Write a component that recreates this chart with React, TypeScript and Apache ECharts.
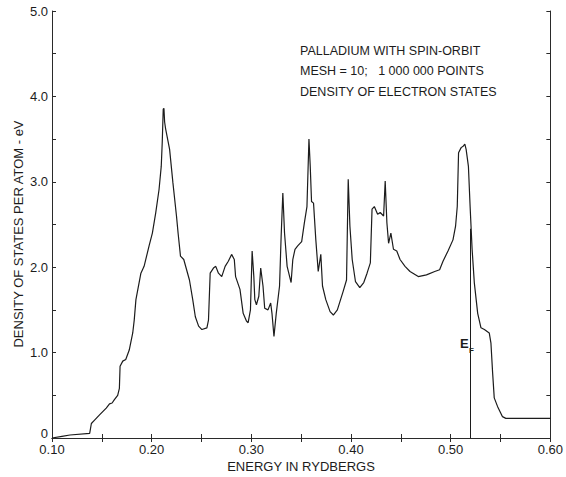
import React, { useEffect, useRef } from "react";
import * as echarts from "echarts";

// Energy (Rydbergs) and density of states (states per atom per eV)
const energy: number[] = [
  0.100, 0.110, 0.118, 0.1378, 0.1395, 0.1427, 0.1477, 0.1544, 0.1577, 0.1603,
  0.1626, 0.1659, 0.1676, 0.1683, 0.171, 0.174, 0.1775, 0.181, 0.1825, 0.1842,
  0.1892, 0.1924, 0.1974, 0.2007, 0.2041, 0.2074, 0.2096, 0.2106, 0.2116, 0.2123,
  0.2130, 0.214, 0.218, 0.2213, 0.2249, 0.2265, 0.2289, 0.2322, 0.2379, 0.2412,
  0.2438, 0.2471, 0.2504, 0.2554, 0.257, 0.2587, 0.262, 0.2643, 0.267, 0.2703,
  0.2737, 0.2769, 0.2802, 0.2829, 0.2842, 0.2886, 0.2918, 0.2951, 0.2968, 0.2991,
  0.3008, 0.3025, 0.3035, 0.3051, 0.3075, 0.3094, 0.3117, 0.3134, 0.3167, 0.3194,
  0.3207, 0.3227, 0.325, 0.3283, 0.3299, 0.3316, 0.3333, 0.3359, 0.3399, 0.3416,
  0.3438, 0.3465, 0.3505, 0.3532, 0.3558, 0.3578, 0.3591, 0.3604, 0.3624, 0.3647,
  0.3671, 0.3697, 0.3714, 0.3747, 0.379, 0.3823, 0.3863, 0.3922, 0.3955, 0.3972,
  0.3989, 0.4012, 0.4045, 0.4088, 0.4128, 0.4161, 0.4194, 0.4211, 0.4234, 0.4267,
  0.4293, 0.4327, 0.4343, 0.436, 0.4377, 0.44, 0.4426, 0.4459, 0.4492, 0.4542,
  0.4592, 0.4675, 0.4757, 0.484, 0.4889, 0.4923, 0.4973, 0.5023, 0.5049, 0.5066,
  0.5079, 0.5105, 0.5128, 0.5142, 0.5155, 0.5178, 0.5195, 0.5215, 0.5237, 0.5271,
  0.5304, 0.5338, 0.5387, 0.5404, 0.5421, 0.5437, 0.547, 0.552, 0.5553, 0.60,
];

const density: number[] = [
  0.00, 0.02, 0.035, 0.055, 0.17, 0.21, 0.27, 0.35, 0.40, 0.41,
  0.45, 0.50, 0.58, 0.84, 0.90, 0.92, 1.03, 1.23, 1.38, 1.62,
  1.93, 2.01, 2.25, 2.40, 2.64, 2.91, 3.18, 3.46, 3.85, 3.86,
  3.70, 3.62, 3.38, 2.99, 2.60, 2.40, 2.13, 2.09, 1.85, 1.62,
  1.42, 1.31, 1.27, 1.29, 1.38, 1.93, 1.99, 2.01, 1.93, 1.89,
  2.01, 2.07, 2.15, 2.09, 1.89, 1.74, 1.46, 1.37, 1.35, 1.50,
  2.19, 1.89, 1.62, 1.56, 1.66, 1.99, 1.78, 1.52, 1.50, 1.58,
  1.46, 1.19, 1.46, 1.78, 2.36, 2.87, 2.40, 2.01, 1.82, 2.09,
  2.21, 2.25, 2.30, 2.52, 2.71, 3.50, 3.18, 2.77, 2.75, 2.32,
  1.95, 2.15, 1.78, 1.62, 1.48, 1.44, 1.50, 1.72, 1.85, 3.03,
  2.48, 2.09, 1.83, 1.76, 1.82, 1.93, 2.05, 2.68, 2.71, 2.62,
  2.64, 2.60, 3.01, 2.52, 2.28, 2.40, 2.21, 2.19, 2.09, 2.01,
  1.95, 1.89, 1.91, 1.95, 1.97, 2.07, 2.19, 2.32, 2.48, 2.71,
  3.34, 3.40, 3.42, 3.44, 3.38, 3.18, 2.71, 2.21, 1.82, 1.46,
  1.29, 1.27, 1.23, 1.11, 0.76, 0.47, 0.37, 0.25, 0.23, 0.23,
];

const fermiEnergy = 0.52;
const fermiDensity = 2.45;

const annotationLines: string[] = [
  "PALLADIUM WITH SPIN-ORBIT",
  "MESH = 10;   1 000 000 POINTS",
  "DENSITY OF ELECTRON STATES",
];

const xTitle = "ENERGY IN RYDBERGS";
const yTitle = "DENSITY OF STATES PER ATOM - eV";

const FONT = "'Liberation Sans', Arial, sans-serif";
const INK = "#1c1c1c";

export default function App() {
  const ref = useRef<HTMLDivElement>(null);

  useEffect(() => {
    if (!ref.current) return;
    const chart = echarts.init(ref.current, undefined, { renderer: "svg" });
    const data = energy.map((e, i) => [e, density[i]]);

    const axisLine = { show: true, lineStyle: { color: "#2a2a2a", width: 1 } };
    const tick = { show: true, inside: true, length: 4, lineStyle: { color: "#2a2a2a", width: 1 } };

    chart.setOption({
      animation: false,
      backgroundColor: "#ffffff",
      grid: { left: 52, right: 12, top: 11, bottom: 39, containLabel: false },
      xAxis: [
        {
          type: "value",
          position: "bottom",
          min: 0.1,
          max: 0.6,
          interval: 0.05,
          axisLine,
          axisTick: tick,
          splitLine: { show: false },
          axisLabel: {
            color: INK,
            fontFamily: FONT,
            fontSize: 13,
            margin: 5,
            formatter: (v: number) =>
              Math.round(v * 100) % 10 === 0 ? v.toFixed(2) : "",
          },
        },
        {
          type: "value",
          position: "top",
          min: 0.1,
          max: 0.6,
          interval: 0.05,
          axisLine,
          axisTick: tick,
          splitLine: { show: false },
          axisLabel: { show: false },
        },
      ],
      yAxis: [
        {
          type: "value",
          position: "left",
          min: 0,
          max: 5,
          interval: 0.5,
          axisLine,
          axisTick: tick,
          splitLine: { show: false },
          axisLabel: {
            color: INK,
            fontFamily: FONT,
            fontSize: 13,
            margin: 4,
            formatter: (v: number) =>
              Math.abs(v - Math.round(v)) < 1e-6
                ? v === 0
                  ? "{z|0}"
                  : v.toFixed(1)
                : "",
            rich: {
              z: {
                color: INK,
                fontFamily: FONT,
                fontSize: 13,
                padding: [0, 0, 9, 0],
              },
            },
          },
        },
        {
          type: "value",
          position: "right",
          min: 0,
          max: 5,
          interval: 0.5,
          axisLine,
          axisTick: tick,
          splitLine: { show: false },
          axisLabel: { show: false },
        },
      ],
      series: [
        {
          type: "line",
          data,
          xAxisIndex: 0,
          yAxisIndex: 0,
          showSymbol: false,
          symbol: "none",
          lineStyle: { color: INK, width: 1.2 },
          markLine: {
            silent: true,
            symbol: "none",
            label: { show: false },
            lineStyle: { color: INK, width: 1, type: "solid" },
            data: [
              [
                { coord: [fermiEnergy, 0] },
                { coord: [fermiEnergy, fermiDensity] },
              ],
            ],
          },
        },
      ],
      graphic: [
        ...annotationLines.map((t, i) => ({
          type: "text",
          left: 300,
          top: 44 + i * 20.5,
          style: { text: t, fill: INK, font: `12.5px ${FONT}` },
        })),
        {
          type: "text",
          x: 301,
          y: 466,
          style: {
            text: xTitle,
            fill: INK,
            font: `13px ${FONT}`,
            align: "center",
            verticalAlign: "middle",
          },
        },
        {
          type: "text",
          x: 18,
          y: 234,
          rotation: Math.PI / 2,
          style: {
            text: yTitle,
            fill: INK,
            font: `13px ${FONT}`,
            align: "center",
            verticalAlign: "middle",
          },
        },
        {
          type: "text",
          x: 460,
          y: 343,
          style: { text: "E", fill: INK, font: `bold 13px ${FONT}`, verticalAlign: "middle" },
        },
        {
          type: "text",
          x: 469,
          y: 350,
          style: { text: "F", fill: INK, font: `bold 8px ${FONT}`, verticalAlign: "middle" },
        },
      ],
    });

    return () => chart.dispose();
  }, []);

  return (
    <div
      ref={ref}
      style={{ position: "fixed", left: 0, top: 0, width: 566, height: 477, background: "#fff" }}
    />
  );
}
